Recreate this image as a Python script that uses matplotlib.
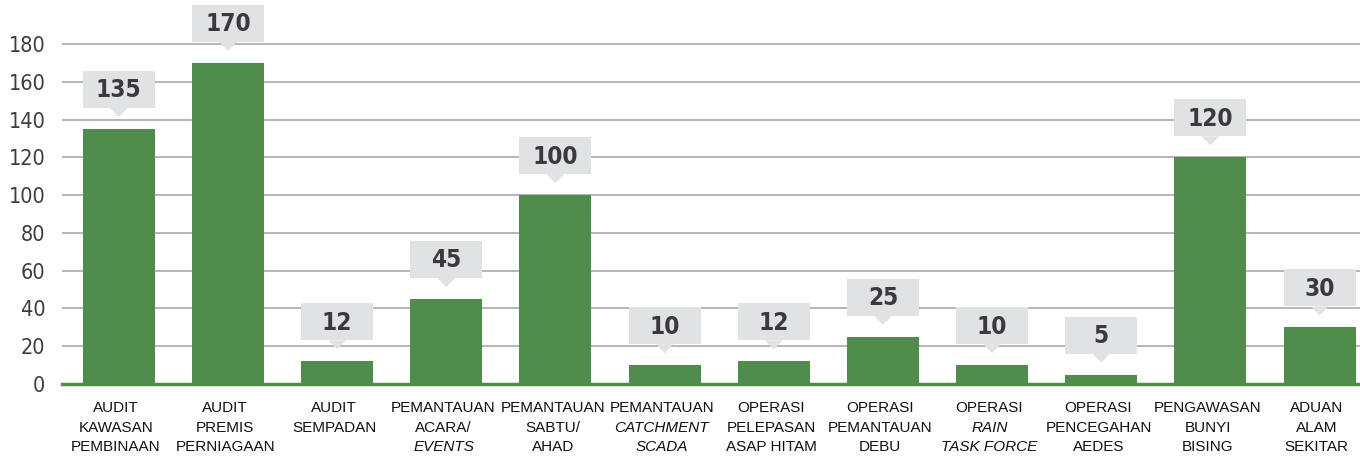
import matplotlib
matplotlib.use("Agg")
import matplotlib.pyplot as plt
from matplotlib.patches import Rectangle, Polygon

# data
categories = [
    ["AUDIT", "KAWASAN", "PEMBINAAN"],
    ["AUDIT", "PREMIS", "PERNIAGAAN"],
    ["AUDIT", "SEMPADAN"],
    ["PEMANTAUAN", "ACARA/", "*EVENTS"],
    ["PEMANTAUAN", "SABTU/", "AHAD"],
    ["PEMANTAUAN", "*CATCHMENT", "*SCADA"],
    ["OPERASI", "PELEPASAN", "ASAP HITAM"],
    ["OPERASI", "PEMANTAUAN", "DEBU"],
    ["OPERASI", "*RAIN", "*TASK FORCE"],
    ["OPERASI", "PENCEGAHAN", "AEDES"],
    ["PENGAWASAN", "BUNYI", "BISING"],
    ["ADUAN", "ALAM", "SEKITAR"],
]
values = [135, 170, 12, 45, 100, 10, 12, 25, 10, 5, 120, 30]
yticks = [0, 20, 40, 60, 80, 100, 120, 140, 160, 180]

green = "#508c4c"
box_grey = "#e1e2e4"
text_dark = "#3a3a3c"

W, H = 1360, 458
fig = plt.figure(figsize=(W / 100, H / 100), dpi=100)
ymax = 181
ppu = 340 / 180  # pixels per y unit
ax = fig.add_axes([62 / W, 1 - 384 / H, 1 - 62 / W, ymax * ppu / H])

x = list(range(len(values)))
ax.bar(x, values, width=0.66, color=green, zorder=2)
ax.set_xlim(-0.52, 11.37)
ax.set_ylim(0, ymax)

ax.set_yticks(yticks)
ax.yaxis.grid(True, color="#b5b5b5", linewidth=1.4)
ax.set_axisbelow(True)
for s in ["top", "right", "left"]:
    ax.spines[s].set_visible(False)
ax.spines["bottom"].set_color(green)
ax.spines["bottom"].set_linewidth(2.5)
ax.spines["bottom"].set_zorder(3)
ax.tick_params(axis="y", length=0, pad=12, labelsize=15.5, labelcolor="#3d3d3d")
ax.tick_params(axis="x", length=0, labelbottom=False)
for t in ax.get_yticklabels():
    t.set_family("DejaVu Sans")
    t.set_stretch("condensed")

# callout boxes above the bars
px_x = 1298 / (11.37 + 0.52)  # pixels per x unit
for xi, v in zip(x, values):
    tip = v + 12 / ppu
    base = tip + 9 / ppu
    top = base + 37 / ppu
    ax.add_patch(Rectangle((xi - 0.33, base), 0.66, top - base,
                           facecolor=box_grey, edgecolor="none",
                           clip_on=False, zorder=4))
    hw = 9 / px_x
    ax.add_patch(Polygon([(xi - hw, base + 0.01), (xi + hw, base + 0.01), (xi, tip)],
                         facecolor=box_grey, edgecolor="none",
                         clip_on=False, zorder=4))
    ax.text(xi, (base + top) / 2 - 0.5, str(v), ha="center", va="center",
            fontsize=17.5, fontweight="bold", color=text_dark,
            family="DejaVu Sans", fontstretch="condensed", zorder=5, clip_on=False)

# category labels, lines starting with * are italic
for xi, lines in zip(x, categories):
    for j, line in enumerate(lines):
        italic = line.startswith("*")
        ax.annotate(line.lstrip("*"), xy=(xi, 0), xycoords=("data", "axes fraction"),
                    xytext=(-2, -17.5 - j * 14), textcoords="offset points",
                    ha="center", va="center", fontsize=11,
                    style="italic" if italic else "normal",
                    color="#111111", family=["Liberation Sans", "DejaVu Sans"])

fig.savefig("out.png", dpi=100)
